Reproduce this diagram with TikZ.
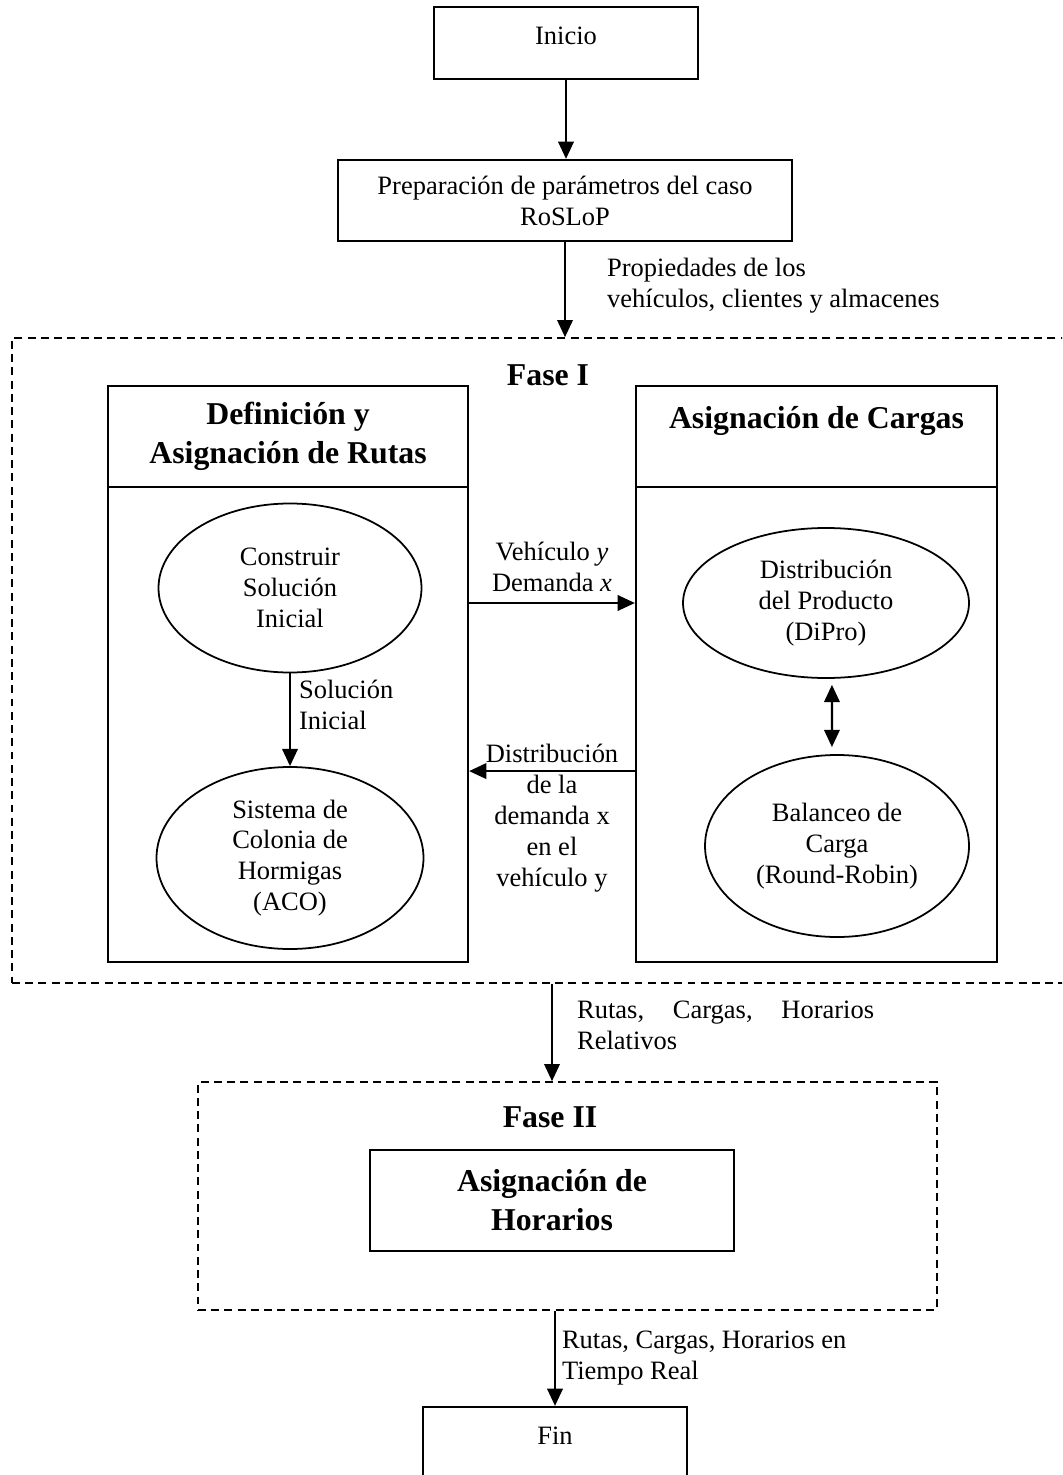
\documentclass[tikz,border=0pt]{standalone}
\usepackage{fontspec}
\setmainfont{Liberation Serif}
\usetikzlibrary{shapes.geometric,arrows.meta}

\newcommand\pxu{0.453pt}

\begin{document}
\begin{tikzpicture}[x=\pxu,y=-\pxu,
    every node/.style={font=\fontsize{12}{14}\selectfont},
    box/.style={draw,line width=1pt,inner sep=0pt,align=center},
    oval/.style={draw,ellipse,line width=0.8pt,inner sep=0pt,align=center},
    phase/.style={draw,dash pattern=on 3.6pt off 2.4pt,line width=0.7pt,inner sep=0pt},
    title/.style={font=\fontsize{14.4}{17.7}\selectfont\bfseries,align=center},
    lab/.style={inner sep=0pt},
    arr/.style={line width=1pt,-{Triangle[length=7.8pt,width=7pt]}},
    dbl/.style={line width=1pt,{Triangle[length=7.8pt,width=7pt]}-{Triangle[length=7.8pt,width=7pt]}}]
    \useasboundingbox (0,0) rectangle (1062,1475);
    \clip (0,0) rectangle (1062,1475);

    \node[box,minimum width=264*\pxu,minimum height=72*\pxu,text depth=7pt] (inicio) at (566,43) {Inicio};
    \node[box,minimum width=454*\pxu,minimum height=81*\pxu] (prep) at (565,200.5) {Preparación de parámetros del caso\\RoSLoP};

    % Fase I
    \node[phase,minimum width=1080*\pxu,minimum height=645*\pxu] (fase1) at (552,660.5) {};
    \node[title] (fase1t) at (548,375) {Fase I};

    \node[box,title,minimum width=360*\pxu,minimum height=101*\pxu] (rutasH) at (288,436.5) {Definición y\\Asignación de Rutas};
    \node[box,minimum width=360*\pxu,minimum height=475*\pxu] (rutasB) at (288,724.5) {};
    \node[box,title,minimum width=361*\pxu,minimum height=101*\pxu] (cargasH) at (816.5,436.5) {Asignación de Cargas\\~};
    \node[box,minimum width=361*\pxu,minimum height=475*\pxu] (cargasB) at (816.5,724.5) {};

    \node[oval,minimum width=263*\pxu,minimum height=169*\pxu] (construir) at (290,588) {Construir\\Solución\\Inicial};
    \node[oval,minimum width=267*\pxu,minimum height=182*\pxu] (aco) at (290,858) {Sistema de\\Colonia de\\Hormigas\\(ACO)};
    \node[oval,minimum width=286*\pxu,minimum height=150*\pxu] (dipro) at (826,603) {Distribución\\del Producto\\(DiPro)};
    \node[oval,minimum width=264*\pxu,minimum height=182*\pxu] (robin) at (837,846) {Balanceo de\\Carga\\(Round-Robin)};

    % Fase II
    \node[phase,minimum width=739*\pxu,minimum height=228*\pxu] (fase2) at (567.5,1196) {};
    \node[title] (fase2t) at (550,1117) {Fase II};
    \node[box,title,minimum width=364*\pxu,minimum height=101*\pxu] (horarios) at (552,1200.5) {Asignación de\\Horarios};

    \node[box,minimum width=264*\pxu,minimum height=72*\pxu,text depth=7pt] (fin) at (555,1443) {Fin};

    \draw[arr] (inicio.south) -- (inicio.south |- prep.north);
    \draw[arr] (prep.south) -- node[lab,anchor=west,xshift=18.6pt,yshift=2pt,align=left] (props) {Propiedades de los\\vehículos, clientes y almacenes} (prep.south |- fase1.north);
    \draw[arr] (construir) -- node[lab,anchor=west,xshift=3.6pt,yshift=6.8pt,align=left] (solini) {Solución\\Inicial} (aco);
    \draw[arr] (rutasB.east |- dipro) -- node[lab,above,yshift=4.5pt,align=center] (vehdem) {Vehículo \textit{y}\\Demanda \textit{x}} (cargasB.west |- dipro);
    \draw[arr] ([yshift=-21.1pt]cargasB.west) -- node[lab,yshift=-21.3pt,align=center] (distdem) {Distribución\\de la\\demanda x\\en el\\vehículo y} ([yshift=-21.1pt]rutasB.east);
    \draw[dbl] ([xshift=2.7pt,yshift=-2.7pt]dipro.south) -- ([xshift=-2.3pt,yshift=3.2pt]robin.north);
    \draw[arr] (fase1.south) -- node[lab,anchor=west,xshift=10.9pt,yshift=3.2pt,text width=134.5pt,align=left] (relat) {Rutas,\hfill Cargas,\hfill Horarios\\Relativos} (fase1.south |- fase2.north);
    \draw[arr] (fin.north |- fase2.south) -- node[lab,anchor=west,xshift=2.7pt,align=left] (real) {Rutas, Cargas, Horarios en\\Tiempo Real} (fin.north);
\end{tikzpicture}
\end{document}
